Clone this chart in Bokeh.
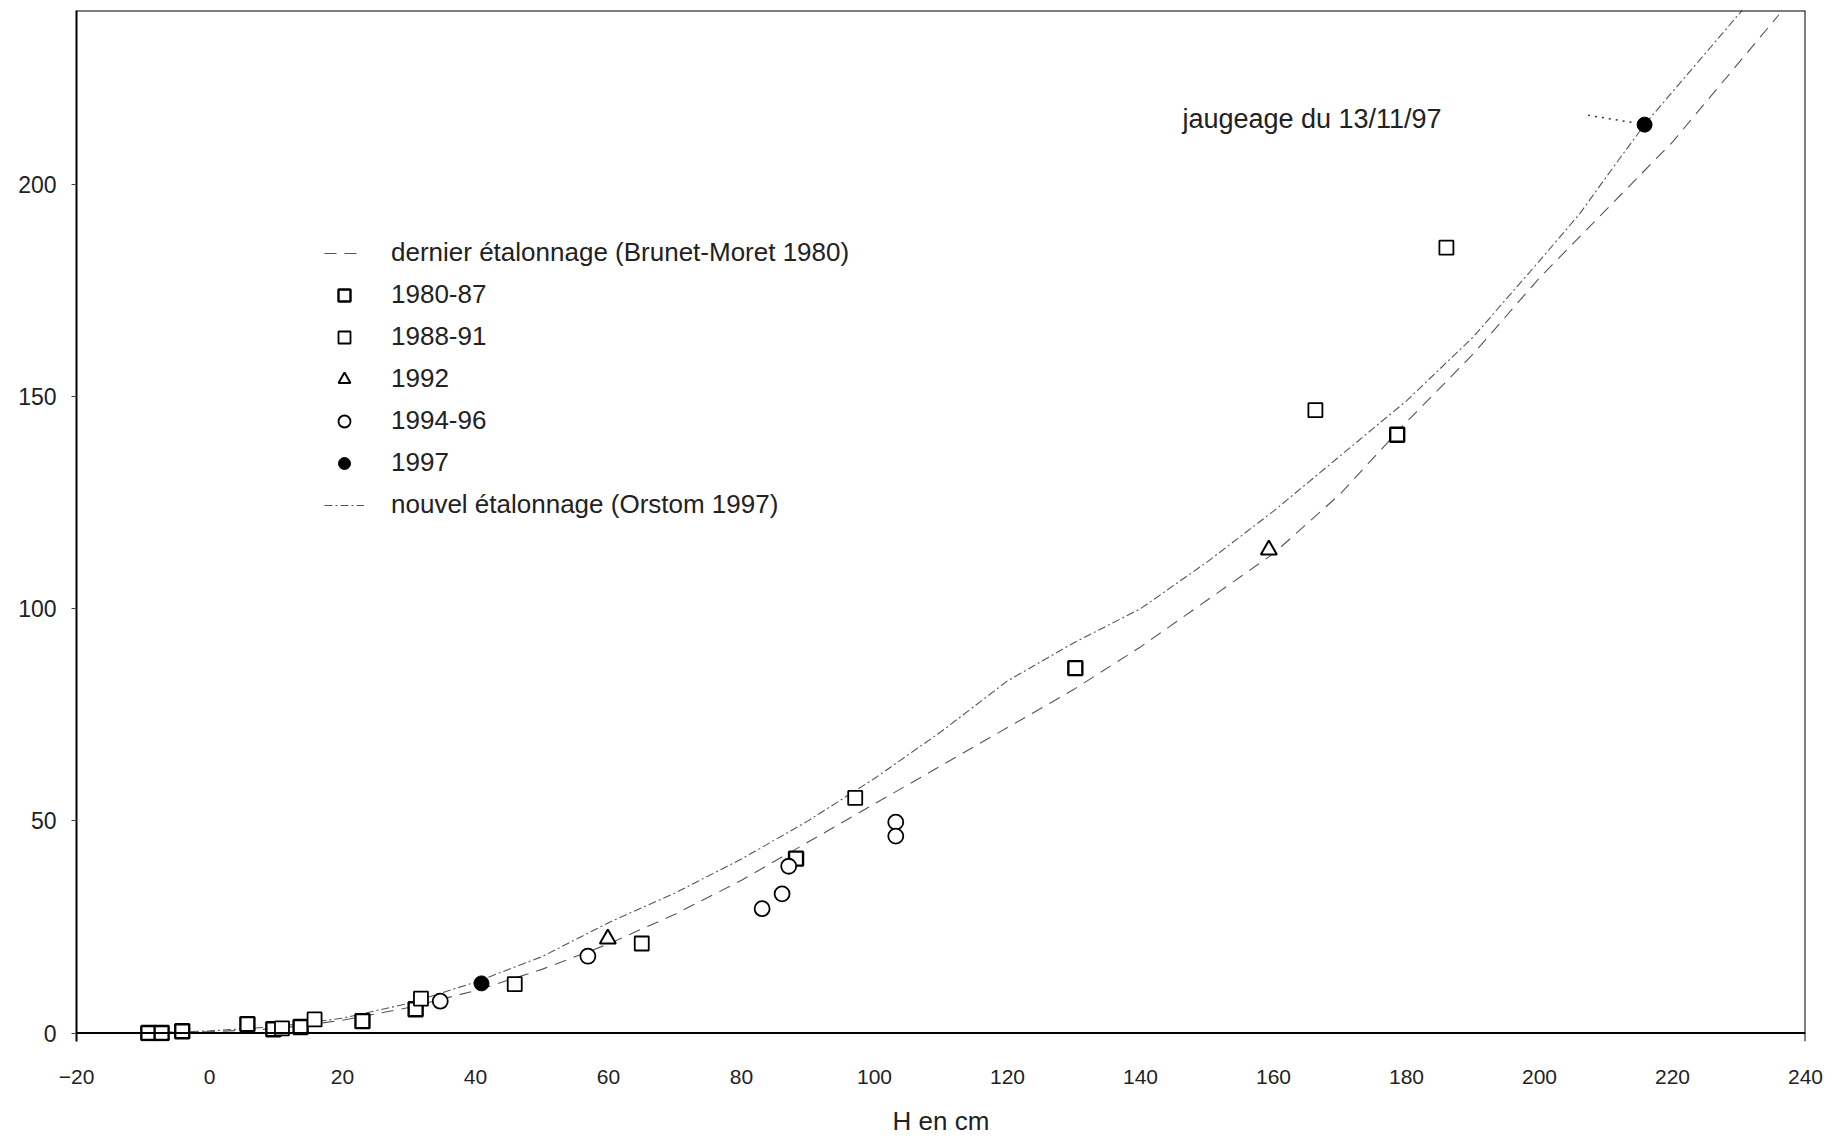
from bokeh.plotting import figure
from bokeh.models import Range1d, FixedTicker, Span, Legend, LegendItem, Label
from bokeh.embed import file_html
from bokeh.resources import INLINE

# ---- data ----
h_8087 = [-9.2, -7.2, -4.1, 5.7, 9.6, 13.7, 23.0, 31.0, 88.2, 130.2, 178.6]
q_8087 = [0.0, 0.0, 0.4, 2.1, 0.9, 1.4, 2.8, 5.6, 41.1, 86.0, 141.0]

h_8891 = [10.9, 15.8, 31.8, 45.9, 65.0, 97.1, 166.3, 186.0]
q_8891 = [1.1, 3.2, 8.1, 11.5, 21.1, 55.4, 146.8, 185.1]

h_1992 = [59.9, 159.3]
q_1992 = [22.2, 113.9]

h_9496 = [34.7, 56.9, 83.1, 86.1, 87.1, 103.2, 103.2]
q_9496 = [7.5, 18.1, 29.3, 32.8, 39.3, 49.7, 46.4]

h_1997 = [40.9, 215.8]
q_1997 = [11.7, 214.1]

# rating curves
h_old = [-10, 0, 10, 20, 30, 40, 50, 60, 70, 80, 90, 100, 110, 120, 130, 140,
         150, 160, 170, 180, 190, 200, 210, 220, 236]
q_old = [0, 0.3, 1, 3, 6, 10, 15, 21, 28, 36, 45, 54, 63, 72, 81, 91,
         102, 113, 127, 144, 160, 178, 194, 210, 240]

h_new = [-10, 0, 10, 20, 30, 40, 50, 60, 70, 80, 90, 100, 110, 120, 130, 140,
         150, 160, 170, 180, 190, 200, 206, 212, 216, 231]
q_new = [0, 0.5, 1.5, 3.5, 7, 12, 18, 26, 33, 41, 50, 60, 71, 83, 92, 100,
         111, 123, 136, 149, 164, 182, 193, 206, 214.5, 242]

label_old = "dernier étalonnage (Brunet-Moret 1980)"
label_new = "nouvel étalonnage (Orstom 1997)"
note_text = "jaugeage du 13/11/97"
note_pos = (146.3, 215.4)
note_leader_h = [207.3, 214.0]
note_leader_q = [216.3, 214.6]

x_ticks = list(range(-20, 241, 20))
y_ticks = [0, 50, 100, 150, 200]

FONT = "Liberation Sans"
TXT = "#222222"

p = figure(width=1834, height=1138, output_backend="svg", toolbar_location=None,
           x_range=Range1d(-20, 240), y_range=Range1d(-2, 241),
           min_border_left=76, min_border_right=29, min_border_top=10,
           min_border_bottom=95)
p.background_fill_color = "white"
p.border_fill_color = "white"
p.outline_line_color = None
p.grid.visible = False

# axes
p.xaxis.ticker = FixedTicker(ticks=x_ticks)
p.yaxis.ticker = FixedTicker(ticks=y_ticks)
p.xaxis.axis_line_color = None
p.xaxis.major_tick_line_color = None
p.xaxis.minor_tick_line_color = None
p.xaxis.major_label_standoff = 22
p.xaxis.axis_label = "H en cm"
p.xaxis.axis_label_standoff = 19
p.xaxis.axis_label_text_font_style = "normal"
p.xaxis.axis_label_text_font_size = "26px"
p.xaxis.axis_label_text_font = FONT
p.xaxis.axis_label_text_color = TXT

p.yaxis.axis_line_color = "black"
p.yaxis.axis_line_width = 2
p.yaxis.major_tick_out = 5
p.yaxis.major_tick_in = 0
p.yaxis.major_tick_line_color = "#444444"
p.yaxis.minor_tick_line_color = None
p.yaxis.major_label_standoff = 15

p.xaxis.major_label_text_font_size = "21px"
p.yaxis.major_label_text_font_size = "23px"
for ax in (p.xaxis, p.yaxis):
    ax.major_label_text_font = FONT
    ax.major_label_text_color = TXT

# frame lines: x axis at Q=0, right and top borders
p.add_layout(Span(location=0, dimension="width", line_color="black", line_width=2))
p.add_layout(Span(location=240, dimension="height", line_color="black", line_width=2))
p.add_layout(Span(location=241, dimension="width", line_color="black", line_width=2))

# rating curves
r_old = p.line(h_old, q_old, line_color="#555555", line_width=1.1, line_dash="12 8")
r_new = p.line(h_new, q_new, line_color="#555555", line_width=1.1, line_dash="8 3 2 3")

# gaugings
r_8087 = p.scatter(h_8087, q_8087, marker="square", size=14, line_color="black",
                   fill_color="white", line_width=2.4)
r_8891 = p.scatter(h_8891, q_8891, marker="square", size=14, line_color="black",
                   fill_color="white", line_width=1.8)
r_1992 = p.scatter(h_1992, q_1992, marker="triangle", size=16, line_color="black",
                   fill_color="white", line_width=2)
r_9496 = p.scatter(h_9496, q_9496, marker="circle", size=15, line_color="black",
                   fill_color="white", line_width=1.8)
r_1997 = p.scatter(h_1997, q_1997, marker="circle", size=15, line_color="black",
                   fill_color="black", line_width=1)

# annotation
p.add_layout(Label(x=note_pos[0], y=note_pos[1], text=note_text,
                   text_baseline="middle", text_align="left",
                   text_font=FONT, text_font_size="27px", text_color=TXT))
p.line(note_leader_h, note_leader_q, line_color="#333333", line_width=1.5,
       line_dash="2 5")

legend = Legend(items=[
    LegendItem(label=label_old, renderers=[r_old]),
    LegendItem(label="1980-87", renderers=[r_8087]),
    LegendItem(label="1988-91", renderers=[r_8891]),
    LegendItem(label="1992", renderers=[r_1992]),
    LegendItem(label="1994-96", renderers=[r_9496]),
    LegendItem(label="1997", renderers=[r_1997]),
    LegendItem(label=label_new, renderers=[r_new]),
], location=(248, 521))
legend.border_line_color = None
legend.background_fill_alpha = 0
legend.margin = 0
legend.padding = 0
legend.glyph_width = 40
legend.glyph_height = 30
legend.label_height = 30
legend.spacing = 11
legend.label_standoff = 27
legend.label_text_font = FONT
legend.label_text_font_size = "26px"
legend.label_text_color = TXT
p.add_layout(legend)

open("out.html", "w").write(file_html(p, INLINE))
